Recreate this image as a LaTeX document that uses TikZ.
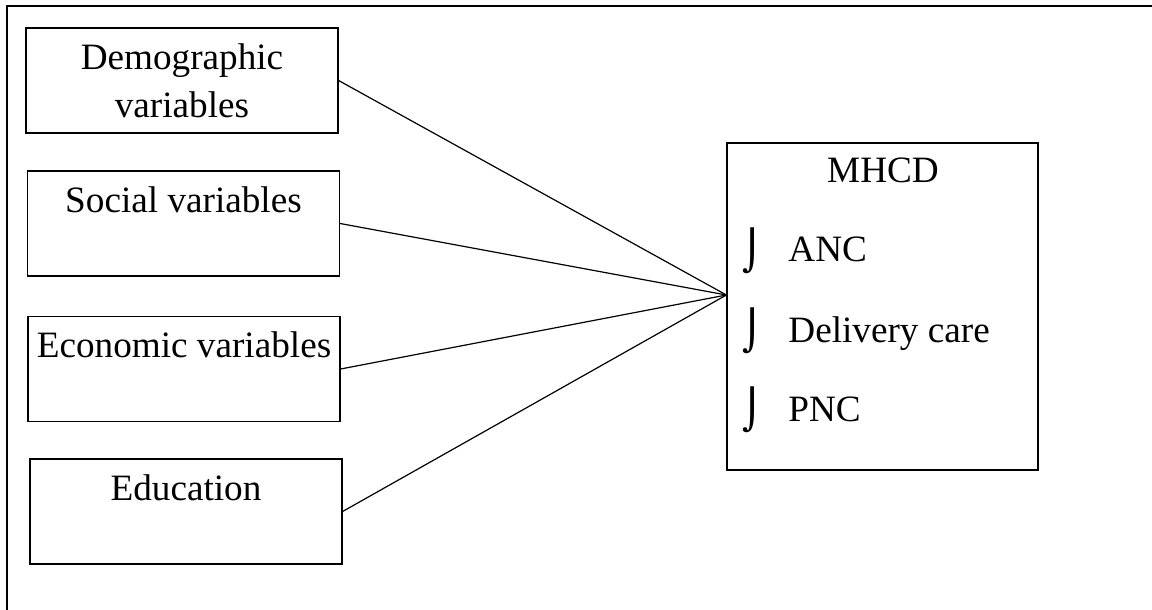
\documentclass[tikz,border=0pt]{standalone}
\usepackage{fontspec}
\setmainfont{Liberation Serif}
\newfontfamily\symfont{DejaVu Sans}
\usetikzlibrary{calc}

\tikzset{
	varbox/.style={draw, line width=0.6pt, minimum width=156pt, minimum height=52.5pt, inner sep=0pt, align=center, font=\fontsize{18.6}{24}\selectfont},
	itemtext/.style={anchor=base west, inner sep=0pt, font=\fontsize{18.6}{24}\selectfont},
	itemmark/.style={anchor=base west, inner sep=0pt, yshift=-1.2pt, font=\symfont\fontsize{19.5}{24}\selectfont},
	link/.style={line width=0.6pt}
}

\begin{document}
\begin{tikzpicture}[x=0.5pt, y=-0.5pt]

				\useasboundingbox (0,0) rectangle (1152,610);
				\draw[line width=1pt] (7,610) -- (7,6) -- (1152,6);

				\foreach \name/\xx/\yy/\txt in {demo/182/80.5/{Demographic\\variables}, soc/183.5/223.5/{Social variables\\\mbox{}}, econ/184/369/{Economic variables\\\mbox{}}, edu/186/511.5/{Education\\\mbox{}}}
				{
					\node[varbox] (\name) at (\xx,\yy) {\txt};
				}

				\node[varbox, minimum width=155.5pt, minimum height=163.5pt] (mhcd) at (882.5,306.5) {};
				\node[anchor=base, inner sep=0pt, font=\fontsize{18.6}{24}\selectfont] (mhcd-title) at (883,183) {MHCD};
				\foreach \name/\yy/\txt in {anc/262/ANC, dc/342/Delivery care, pnc/421/PNC}
				{
					\node[itemmark] (\name-mark) at (742,\yy) {⌡};
					\node[itemtext] (\name) at (788,\yy) {\txt};
				}

				\coordinate (hub) at ([yshift=5.75pt]mhcd.west);
				\foreach \name in {demo, soc, econ, edu}
				{
					\draw[link] (\name.east) -- (hub);
				}
		\end{tikzpicture}
\end{document}
